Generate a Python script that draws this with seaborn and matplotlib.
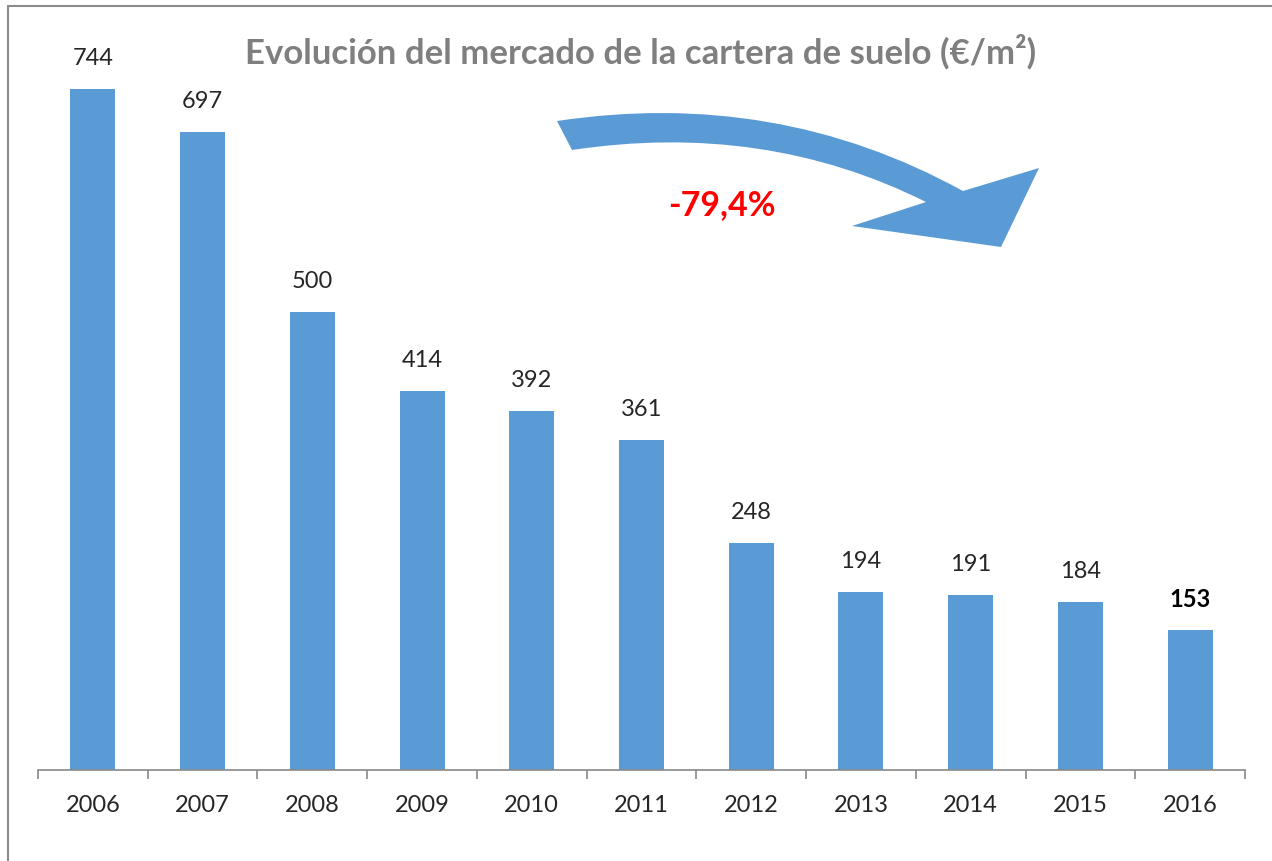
import matplotlib
matplotlib.use("Agg")
import matplotlib.pyplot as plt
import seaborn as sns
from matplotlib.path import Path
from matplotlib.patches import PathPatch
from matplotlib.lines import Line2D
from matplotlib.ticker import FixedLocator

years = ["2006", "2007", "2008", "2009", "2010", "2011",
         "2012", "2013", "2014", "2015", "2016"]
prices = [744, 697, 500, 414, 392, 361, 248, 194, 191, 184, 153]
change_label = "-79,4%"
title = "Evolución del mercado de la cartera de suelo (€/m²)"

BLUE = "#5B9BD5"
GREY = "#898989"

sns.set_style("white")
plt.rcParams["font.family"] = ["Lato", "DejaVu Sans"]

W, H = 1272, 861
fig = plt.figure(figsize=(W / 100, H / 100), dpi=100)
ax = fig.add_axes([38 / W, 91 / H, (1245 - 38) / W, (770 - 37.8) / H])

sns.barplot(x=years, y=prices, color=BLUE, saturation=1, width=0.41,
            edgecolor="none", ax=ax)

ax.set_xlim(-0.5, len(years) - 0.5)
ax.set_ylim(0, 800)
ax.set_yticks([])
ax.set_xlabel("")
ax.set_ylabel("")
for side in ["top", "right", "left"]:
    ax.spines[side].set_visible(False)
ax.spines["bottom"].set_color(GREY)
ax.spines["bottom"].set_linewidth(1.2)

# tick marks between categories, labels at centres
ax.xaxis.set_minor_locator(FixedLocator([i - 0.5 for i in range(len(years) + 1)]))
ax.tick_params(axis="x", which="minor", direction="out", length=6.5,
               width=1.2, color=GREY, bottom=True)
ax.tick_params(axis="x", which="major", length=0, pad=18,
               labelsize=17, labelcolor="#262626")

for i, v in enumerate(prices):
    last = i == len(prices) - 1
    ax.annotate(str(v), (i, v), xytext=(0, 22), textcoords="offset points",
                ha="center", va="center", fontsize=17,
                fontweight="bold" if last else "normal",
                color="black" if last else "#262626")

fig.text(641 / W, 1 - 52 / H, title, ha="center", va="center",
         fontsize=25, fontweight="bold", color="#7F7F7F")

# curved arrow (pixel coordinates from top-left)
def p(x, y):
    return (x / W, 1 - y / H)

verts = [p(557, 121), p(776, 88), p(963, 191),
         p(1039, 168), p(1001, 247), p(852, 226), p(926, 202),
         p(764, 121), p(572, 150), p(557, 121)]
codes = [Path.MOVETO, Path.CURVE3, Path.CURVE3,
         Path.LINETO, Path.LINETO, Path.LINETO, Path.LINETO,
         Path.CURVE3, Path.CURVE3, Path.CLOSEPOLY]
fig.patches.append(PathPatch(Path(verts, codes), transform=fig.transFigure,
                             facecolor=BLUE, edgecolor="none"))

fig.text(722 / W, 1 - 205 / H, change_label, ha="center", va="center",
         fontsize=24.5, fontweight="bold", color="#FF0000")

# frame lines (left and top)
fig.add_artist(Line2D([8 / W, 8 / W], [0, 1 - 6 / H], transform=fig.transFigure,
                      color="#8C8C8C", linewidth=1.5))
fig.add_artist(Line2D([8 / W, 1], [1 - 6 / H, 1 - 6 / H], transform=fig.transFigure,
                      color="#8C8C8C", linewidth=1.5))

fig.savefig("out.png", dpi=100)
